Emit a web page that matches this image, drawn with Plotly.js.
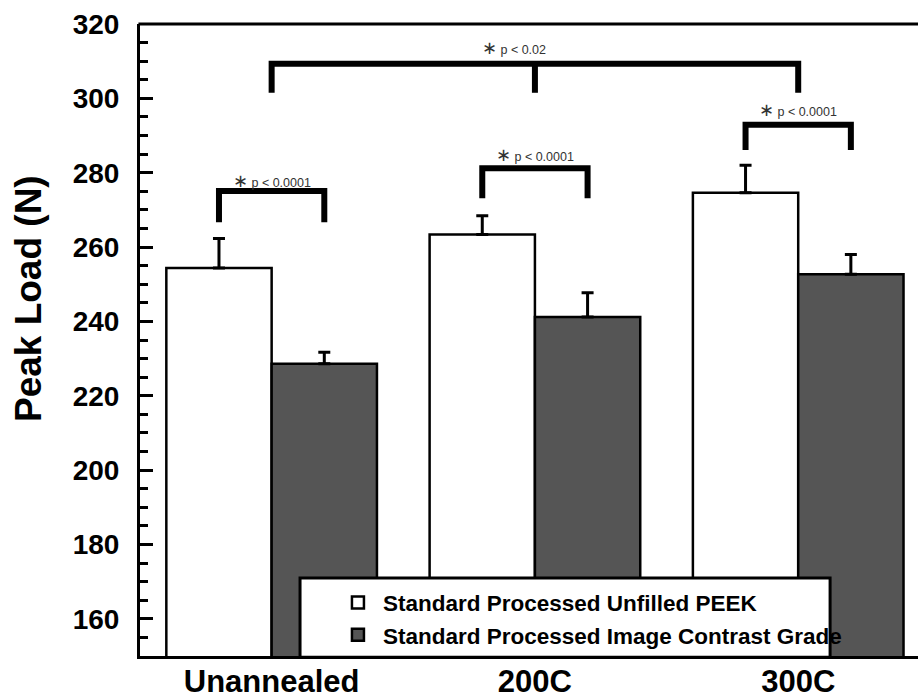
<!DOCTYPE html>
<html>
<head>
<meta charset="utf-8">
<script src="https://cdn.plot.ly/plotly-3.0.1.min.js"></script>
<style>
  html, body { margin: 0; padding: 0; background: #fff; overflow: hidden; }
  #chart { width: 918px; height: 698px; }
</style>
</head>
<body>
<div id="chart"></div>
<script>
// Peak load of unfilled PEEK vs. image contrast grade PEEK across anneal conditions
const categories = ['Unannealed', '200C', '300C'];

const seriesNames = [
  'Standard Processed Unfilled PEEK',
  'Standard Processed Image Contrast Grade'
];
const unfilledMean = [254.4, 263.4, 274.6];
const unfilledErr  = [7.9, 5.0, 7.4];
const contrastMean = [228.6, 241.2, 252.7];
const contrastErr  = [3.1, 6.5, 5.3];

// Significance labels: paired comparison within each condition, and across conditions
const pairLabels = ['p < 0.0001', 'p < 0.0001', 'p < 0.0001'];
const overallLabel = 'p < 0.02';
const yTitle = 'Peak Load (N)';

const FONT = '"Liberation Sans", Arial, Helvetica, sans-serif';
const idx = categories.map((_, i) => i);
const BARGAP = 0.2;
const half = (1 - BARGAP) / 4;   // offset of each bar centre from its category centre

const traces = [];
traces.push({
  type: 'bar', name: seriesNames[0], x: idx, y: unfilledMean,
  marker: { color: '#ffffff', line: { color: '#000', width: 2.5 } },
  error_y: { type: 'data', symmetric: false, array: unfilledErr,
             arrayminus: unfilledErr.map(() => 0), color: '#000', thickness: 3, width: 6 },
  hoverinfo: 'y'
});
traces.push({
  type: 'bar', name: seriesNames[1], x: idx, y: contrastMean,
  marker: { color: '#555555', line: { color: '#000', width: 2.5 } },
  error_y: { type: 'data', symmetric: false, array: contrastErr,
             arrayminus: contrastErr.map(() => 0), color: '#000', thickness: 3, width: 6 },
  hoverinfo: 'y'
});

// Bracket heights (leg foot, bar) for each within-condition comparison
const pairLevels = [[266.7, 275.1], [273.1, 281.2], [286.1, 292.9]];
const pairTextY = [277.8, 284.7, 296.8];
const bracketLine = { color: '#000', width: 6 };

idx.forEach(i => {
  const [foot, top] = pairLevels[i];
  traces.push({
    type: 'scatter', mode: 'lines', showlegend: false, hoverinfo: 'skip',
    x: [i - half, i - half, i + half, i + half],
    y: [foot, top, top, foot],
    line: bracketLine
  });
});

// Across-condition bracket spanning all three groups
const overallFoot = 301.5, overallTop = 309.3;
traces.push({
  type: 'scatter', mode: 'lines', showlegend: false, hoverinfo: 'skip',
  x: [idx[0], idx[0], idx[2], idx[2], null, idx[1], idx[1]],
  y: [overallFoot, overallTop, overallTop, overallFoot, null, overallTop, overallFoot],
  line: bracketLine
});

const star = '<span style="font-size:18px">\u2217</span> ';
const esc = s => s.replace(/</g, '&lt;');
const annotations = idx.map(i => ({
  x: i, y: pairTextY[i], xref: 'x', yref: 'y',
  text: star + esc(pairLabels[i]), showarrow: false,
  font: { family: FONT, size: 12.5, color: '#333' },
  xanchor: 'center', yanchor: 'middle'
}));
annotations.push({
  x: 0.92, y: 313.5, xref: 'x', yref: 'y',
  text: star + esc(overallLabel), showarrow: false,
  font: { family: FONT, size: 12.5, color: '#333' },
  xanchor: 'center', yanchor: 'middle'
});
// Vertical axis title, set a little above the axis midpoint
annotations.push({
  x: -0.143, y: 0.566, xref: 'paper', yref: 'paper',
  text: yTitle, textangle: -90, showarrow: false,
  font: { family: FONT, size: 37, weight: 'bold', color: '#000' },
  xanchor: 'center', yanchor: 'middle'
});

const layout = {
  width: 918, height: 698,
  margin: { l: 140, r: 0, t: 24, b: 42 },
  paper_bgcolor: '#fff', plot_bgcolor: '#fff',
  font: { family: FONT, color: '#000' },
  barmode: 'group', bargap: BARGAP, bargroupgap: 0,
  showlegend: true,
  legend: {
    x: 0.248, xanchor: 'left', y: 0.118, yanchor: 'top',
    bgcolor: 'rgba(0,0,0,0)', borderwidth: 0,
    itemwidth: 40,
    font: { family: FONT, size: 22.5, weight: 'bold', color: '#000' },
    traceorder: 'normal'
  },
  xaxis: {
    type: 'linear', range: [-0.5, 2.455],
    tickvals: idx, ticktext: categories,
    ticks: '', showgrid: false, zeroline: false,
    showline: true, mirror: false, linecolor: '#000', linewidth: 3,
    tickfont: { family: FONT, size: 31, weight: 'bold', color: '#000' },
    ticklabelstandoff: -4
  },
  yaxis: {
    range: [150, 320], dtick: 20, tick0: 160,
    ticks: 'inside', ticklen: 13, tickwidth: 3, tickcolor: '#000',
    minor: { dtick: 5, ticks: 'inside', ticklen: 8, tickwidth: 3, tickcolor: '#000', showgrid: false },
    showgrid: false, zeroline: false,
    showline: true, mirror: false, linecolor: '#000', linewidth: 3,
    tickfont: { family: FONT, size: 28, weight: 'bold', color: '#000' },
    ticklabelstandoff: 12
  },
  shapes: [
    // top frame line
    { type: 'line', xref: 'paper', yref: 'paper', layer: 'above',
      x0: -0.002, x1: 1, y0: 1, y1: 1, line: { color: '#000', width: 3 } },
    // legend box
    { type: 'rect', xref: 'paper', yref: 'paper', layer: 'above',
      x0: 0.2057, x1: 0.887, y0: -0.002, y1: 0.1234,
      fillcolor: '#fff', line: { color: '#000', width: 3 } }
  ],
  annotations: annotations
};

Plotly.newPlot('chart', traces, layout, { displayModeBar: false, staticPlot: true });
</script>
</body>
</html>
